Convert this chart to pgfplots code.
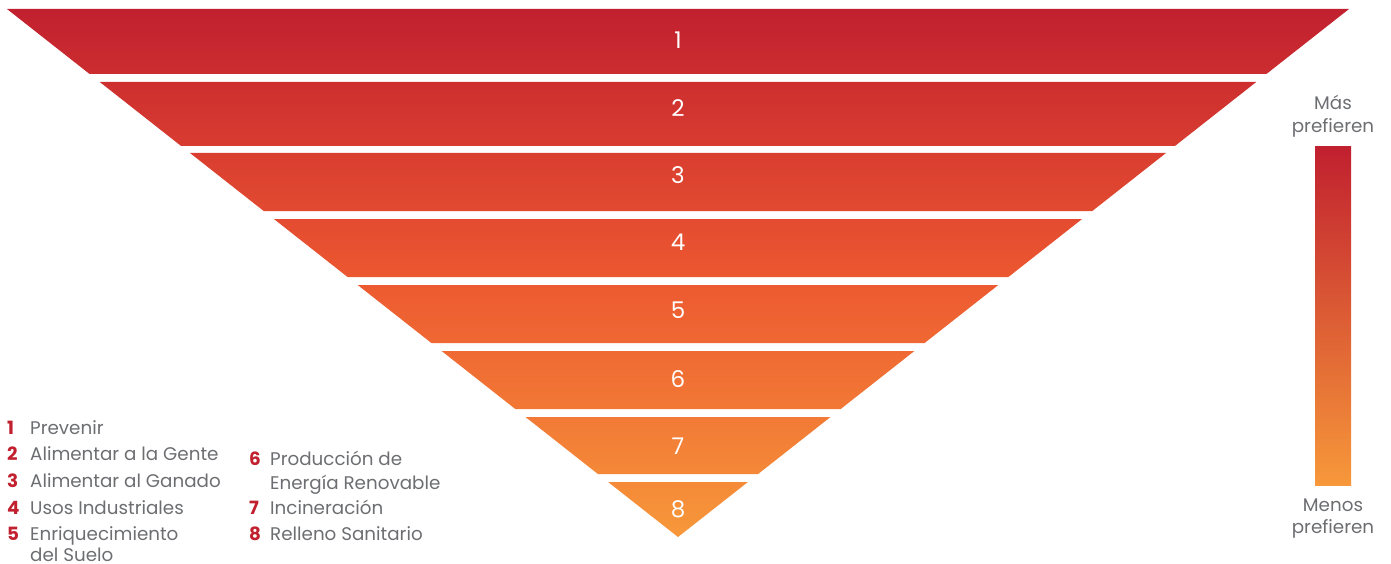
\documentclass[border=0pt]{standalone}
\usepackage{pgfplots}
\pgfplotsset{compat=1.18}
\usepackage{fontspec}
\setmainfont{Poppins}
\definecolor{txt}{RGB}{109,110,113}
\definecolor{numred}{RGB}{193,32,47}
\definecolor{c0}{RGB}{193,32,47}
\definecolor{c1}{RGB}{204,45,47}
\definecolor{c2}{RGB}{205,47,47}
\definecolor{c3}{RGB}{216,60,48}
\definecolor{c4}{RGB}{217,62,48}
\definecolor{c5}{RGB}{226,74,48}
\definecolor{c6}{RGB}{228,75,48}
\definecolor{c7}{RGB}{236,88,48}
\definecolor{c8}{RGB}{237,90,49}
\definecolor{c9}{RGB}{239,104,51}
\definecolor{c10}{RGB}{239,106,51}
\definecolor{c11}{RGB}{242,120,53}
\definecolor{c12}{RGB}{242,122,54}
\definecolor{c13}{RGB}{244,136,56}
\definecolor{c14}{RGB}{245,138,56}
\definecolor{c15}{RGB}{247,152,58}
\definecolor{cmid}{RGB}{234,84,48}
\newcommand{\lf}{\fontsize{18.3}{22}\selectfont}
\begin{document}
\begin{tikzpicture}
\begin{axis}[width=1391pt,height=564pt,scale only axis,
  xmin=0,xmax=1391,ymin=0,ymax=564,y dir=reverse,hide axis,clip=false]
\path (rel axis cs:0,0) rectangle (rel axis cs:1,1);
% funnel bands
\addplot[draw=none, top color=c0, bottom color=c1] coordinates {(7,9) (1349,9) (1266.4,74) (89.6,74)} -- cycle;
\addplot[draw=none, top color=c2, bottom color=c3] coordinates {(99.8,82) (1256.2,82) (1174.9,146) (181.1,146)} -- cycle;
\addplot[draw=none, top color=c4, bottom color=c5] coordinates {(190.0,153) (1166.0,153) (1092.3,211) (263.7,211)} -- cycle;
\addplot[draw=none, top color=c6, bottom color=c7] coordinates {(273.9,219) (1082.1,219) (1008.4,277) (347.6,277)} -- cycle;
\addplot[draw=none, top color=c8, bottom color=c9] coordinates {(357.7,285) (998.3,285) (924.6,343) (431.4,343)} -- cycle;
\addplot[draw=none, top color=c10, bottom color=c11] coordinates {(441.6,351) (914.4,351) (840.7,409) (515.3,409)} -- cycle;
\addplot[draw=none, top color=c12, bottom color=c13] coordinates {(525.5,417) (830.5,417) (758.1,474) (597.9,474)} -- cycle;
\addplot[draw=none, top color=c14, bottom color=c15] coordinates {(608.1,482) (747.9,482) (678,537)} -- cycle;
% colour bar
\addplot[draw=none, top color=c0, middle color=cmid, bottom color=c15] coordinates {(1315,147) (1351,147) (1351,485) (1315,485)} -- cycle;
% band numbers
\begin{scope}[every node/.style={text=white, font=\fontsize{23}{27}\selectfont}]
\node at (axis cs:678,40) {1};
\node at (axis cs:678,108) {2};
\node at (axis cs:678,175) {3};
\node at (axis cs:678,242) {4};
\node at (axis cs:678,310) {5};
\node at (axis cs:678,379) {6};
\node at (axis cs:678,446) {7};
\node at (axis cs:678,509) {8};
\end{scope}
% legend
\begin{scope}[every node/.style={anchor=base west, inner sep=0pt, font=\lf}]
\node[text=numred, font=\lf\bfseries] at (axis cs:7,434) {1};
\node[text=numred, font=\lf\bfseries] at (axis cs:7,460.7) {2};
\node[text=numred, font=\lf\bfseries] at (axis cs:7,487.3) {3};
\node[text=numred, font=\lf\bfseries] at (axis cs:7,514) {4};
\node[text=numred, font=\lf\bfseries] at (axis cs:7,540.3) {5};
\node[text=txt] at (axis cs:30,434) {Prevenir};
\node[text=txt] at (axis cs:30,460.7) {Alimentar a la Gente};
\node[text=txt] at (axis cs:30,487.3) {Alimentar al Ganado};
\node[text=txt] at (axis cs:30,514) {Usos Industriales};
\node[text=txt] at (axis cs:30,540.3) {Enriquecimiento};
\node[text=txt] at (axis cs:30,561) {del Suelo};
\node[text=numred, font=\lf\bfseries] at (axis cs:249,465.7) {6};
\node[text=numred, font=\lf\bfseries] at (axis cs:249,514) {7};
\node[text=numred, font=\lf\bfseries] at (axis cs:249,540.3) {8};
\node[text=txt] at (axis cs:270,465.7) {Producción de};
\node[text=txt] at (axis cs:270,489) {Energía Renovable};
\node[text=txt] at (axis cs:270,514) {Incineración};
\node[text=txt] at (axis cs:270,540.3) {Relleno Sanitario};
\end{scope}
% colour bar labels
\begin{scope}[every node/.style={anchor=base, inner sep=0pt, text=txt, font=\lf}]
\node at (axis cs:1333,109.3) {Más};
\node at (axis cs:1333,132.7) {prefieren};
\node at (axis cs:1333,511.7) {Menos};
\node at (axis cs:1333,533) {prefieren};
\end{scope}
\end{axis}
\end{tikzpicture}
\end{document}
